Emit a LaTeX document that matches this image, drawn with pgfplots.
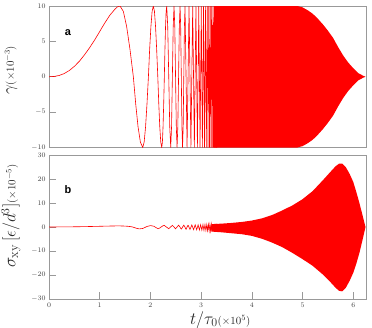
\documentclass[border=0pt]{standalone}
\usepackage{pgfplots}
\pgfplotsset{compat=1.18}
\usepackage{fontspec}
\newfontfamily\arial{Liberation Sans}
\begin{document}
\begin{tikzpicture}
\useasboundingbox (0,0) rectangle (372bp,-328bp);
\pgfplotsset{
  myax/.style={
    scale only axis, width=317bp, xmin=0, xmax=6.25,
    axis line style={draw=gray!80, line width=0.8pt},
    tick align=inside, major tick length=7bp,
    tick style={draw=gray!80, line width=0.6pt},
    ticklabel style={font=\fontsize{7.5}{9}\selectfont, text=black!75},
    xtick pos=bottom, ytick pos=left,
    label style={font=\fontsize{18}{20}\selectfont, text=black!85},
  }
}
% ---------------- top panel ----------------
\begin{axis}[myax, at={(49bp,-147.5bp)}, anchor=south west, height=141.5bp,
  ymin=-10, ymax=10, ytick={-10,-5,0,5,10}, xtick=\empty,
  ylabel={$\gamma${\fontsize{11}{13}\selectfont$(\times10^{-3})$}},
  ylabel style={at={(axis description cs:-0.12,0.546)}, anchor=center}]
\addplot[fill=red, draw=none] coordinates {
(3.25,10) (4.90,10) (5.00,9.8) (5.10,9.4) (5.20,8.9) (5.30,8.2) (5.40,7.4) (5.50,6.5) (5.60,5.5) (5.70,4.2) (5.80,3.0) (5.90,2.0) (6.00,1.2) (6.10,0.5) (6.20,0.12) (6.24,0)
(6.20,-0.12) (6.10,-0.5) (6.00,-1.2) (5.90,-2.0) (5.80,-3.0) (5.70,-4.2) (5.60,-5.5) (5.50,-6.5) (5.40,-7.4) (5.30,-8.2) (5.20,-8.9) (5.10,-9.4) (5.00,-9.8) (4.90,-10) (3.25,-10)
} -- cycle;
\addplot[red, line width=0.6pt] coordinates {
(0,0) (0.1,0.04) (0.2,0.18) (0.3,0.45) (0.4,0.88) (0.5,1.47) (0.6,2.2) (0.7,3.1) (0.8,4.1) (0.9,5.2) (1.0,6.4) (1.1,7.6) (1.2,8.7) (1.3,9.55) (1.35,9.88) (1.4,10)
(1.4658,9.24) (1.5315,7.07) (1.5973,3.83) (1.663,0) (1.7093,-3.83) (1.7555,-7.07) (1.8018,-9.24) (1.848,-10)
(1.876,-9.24) (1.904,-7.07) (1.932,-3.83) (1.960,0) (1.984,3.83) (2.009,7.07) (2.033,9.24) (2.057,10)
(2.079,9.24) (2.101,7.07) (2.123,3.83) (2.145,0) (2.1645,-3.83) (2.184,-7.07) (2.2035,-9.24) (2.223,-10)
(2.2358,-9.24) (2.2485,-7.07) (2.2613,-3.83) (2.274,0) (2.2858,3.83) (2.2975,7.07) (2.3093,9.24) (2.321,10)
(2.3408,7.07) (2.361,0) (2.3805,-7.07) (2.400,-10)
(2.4163,-7.07) (2.4325,0) (2.4488,7.07) (2.465,10)
(2.480,7.07) (2.495,0) (2.510,-7.07) (2.525,-10)
(2.5398,-7.07) (2.5545,0) (2.5693,7.07) (2.584,10)
(2.5963,7.07) (2.6085,0) (2.6208,-7.07) (2.633,-10)
(2.6453,-7.07) (2.6575,0) (2.6698,7.07) (2.682,10)
(2.722,-10) (2.761,10) (2.798,-10) (2.833,10) (2.866,-10) (2.897,10) (2.926,-10) (2.953,10)
(2.978,-10) (3.002,10) (3.024,-10) (3.045,10) (3.065,-10) (3.084,10) (3.102,-10) (3.119,10)
(3.135,-10) (3.150,10) (3.165,-10) (3.179,10) (3.193,-10) (3.206,10) (3.219,-10) (3.231,10)
(3.243,-10) (3.255,10) (3.266,-10) (3.277,10) (3.288,-10) (3.298,10) (3.308,-10) (3.318,10)
};
\node[font=\arial\bfseries\fontsize{11}{13}\selectfont] at (axis description cs:0.06,0.81) {a};
\end{axis}
% ---------------- bottom panel ----------------
\begin{axis}[myax, at={(49bp,-299bp)}, anchor=south west, height=144bp,
  ymin=-30, ymax=30, ytick={-30,-20,-10,0,10,20,30}, xtick={0,1,2,3,4,5,6},
  ylabel={$\sigma_{\rm xy}\,[\epsilon/d^3]${\fontsize{11}{13}\selectfont$(\times10^{-5})$}},
  ylabel style={at={(axis description cs:-0.12,0.576)}, anchor=center},
  xlabel={$t/\tau_0${\fontsize{11}{13}\selectfont$(\times10^{5})$}},
  xlabel style={at={(axis description cs:0.54,-0.146)}, anchor=center}]
\addplot[fill=red, draw=none] coordinates {
(3.20,1.2) (3.40,1.4) (3.60,1.7) (3.80,2.1) (4.00,2.7) (4.20,3.6) (4.40,5.0) (4.60,6.9) (4.80,9.0) (5.00,11.6) (5.20,15.0) (5.40,19.5) (5.55,23.0) (5.65,25.3) (5.72,26.4) (5.78,26.4) (5.85,25.0) (5.93,22.0) (6.00,18.7) (6.06,14.5) (6.12,10.0) (6.18,5.0) (6.24,0)
(6.18,-5.5) (6.12,-10.8) (6.06,-15.2) (6.00,-19.0) (5.93,-22.3) (5.85,-25.4) (5.78,-26.8) (5.72,-26.6) (5.65,-25.3) (5.55,-23.0) (5.40,-19.8) (5.20,-16.2) (5.00,-13.4) (4.80,-10.8) (4.60,-8.4) (4.40,-6.5) (4.20,-4.9) (4.00,-3.7) (3.80,-3.0) (3.60,-2.6) (3.40,-2.2) (3.20,-1.9)
} -- cycle;
\addplot[red, line width=0.6pt, smooth, tension=0.6] coordinates {
(0,0) (0.3,0.05) (0.6,0.12) (0.9,0.25) (1.2,0.4) (1.4,0.45) (1.55,0.3) (1.65,0) (1.72,-0.5) (1.78,-0.8) (1.85,-0.6) (1.93,0.2) (2.0,0.6) (2.07,0.3)
(2.15,-0.7) (2.21,0) (2.27,0.7) (2.315,0) (2.36,-0.7) (2.397,0) (2.433,0.7) (2.464,0) (2.495,-0.75) (2.525,0) (2.555,0.75) (2.582,0) (2.609,-0.85)
(2.633,0) (2.658,0.78) (2.680,0) (2.702,-0.95) (2.722,0) (2.742,0.8)
};
\addplot[red, line width=0.6pt] coordinates {
(2.742,0.8) (2.780,-1.0) (2.816,0.85) (2.850,-1.1) (2.882,0.88) (2.912,-1.15)
(2.940,0.9) (2.966,-1.25) (2.990,0.95) (3.013,-1.3) (3.035,1.0) (3.055,-1.4) (3.075,1.02) (3.093,-1.45)
(3.111,1.05) (3.127,-1.55) (3.143,1.1) (3.158,-1.6) (3.172,1.12) (3.186,-1.65) (3.200,1.15) (3.213,-1.7)
(3.225,1.18) (3.237,-1.75) (3.249,1.2) (3.261,-1.8) (3.272,1.22) (3.283,-1.85) (3.293,1.25) (3.303,-1.9) (3.313,1.3)
};
\node[font=\arial\bfseries\fontsize{11}{13}\selectfont] at (axis description cs:0.06,0.757) {b};
\end{axis}
\end{tikzpicture}
\end{document}
